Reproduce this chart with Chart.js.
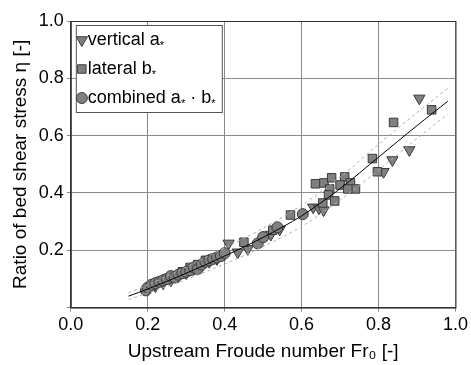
<!DOCTYPE html>
<html>
<head>
<meta charset="utf-8">
<script src="https://cdn.jsdelivr.net/npm/chart.js@4.4.1/dist/chart.umd.min.js"></script>
<style>
  html, body { margin: 0; padding: 0; background: #fff; }
  #wrap { width: 471px; height: 365px; }
</style>
</head>
<body>
<div id="wrap"><canvas id="chart"></canvas></div>
<script>
// values
const verticalFr  = [0.20, 0.22, 0.24, 0.26, 0.28, 0.30, 0.32, 0.34, 0.36, 0.38, 0.41, 0.434, 0.46, 0.52, 0.543, 0.63, 0.645, 0.657, 0.813, 0.836, 0.88, 0.906];
const verticalEta = [0.065, 0.075, 0.085, 0.095, 0.11, 0.12, 0.135, 0.145, 0.16, 0.17, 0.224, 0.193, 0.205, 0.255, 0.273, 0.35, 0.347, 0.34, 0.474, 0.515, 0.55, 0.73];

const lateralFr  = [0.21, 0.23, 0.25, 0.27, 0.29, 0.31, 0.33, 0.35, 0.37, 0.39, 0.45, 0.525, 0.571, 0.636, 0.658, 0.678, 0.712, 0.727, 0.74, 0.70, 0.72, 0.673, 0.67, 0.686, 0.655, 0.784, 0.797, 0.839, 0.938];
const lateralEta = [0.075, 0.09, 0.10, 0.11, 0.125, 0.14, 0.15, 0.165, 0.17, 0.18, 0.228, 0.27, 0.323, 0.432, 0.435, 0.453, 0.456, 0.435, 0.414, 0.428, 0.414, 0.414, 0.393, 0.372, 0.365, 0.52, 0.474, 0.646, 0.69];

const combinedFr  = [0.195, 0.20, 0.21, 0.22, 0.23, 0.24, 0.25, 0.26, 0.27, 0.28, 0.29, 0.30, 0.31, 0.32, 0.33, 0.34, 0.35, 0.36, 0.37, 0.38, 0.39, 0.40, 0.486, 0.50, 0.537, 0.603];
const combinedEta = [0.06, 0.07, 0.08, 0.085, 0.09, 0.095, 0.10, 0.11, 0.105, 0.115, 0.12, 0.125, 0.13, 0.14, 0.135, 0.15, 0.16, 0.165, 0.17, 0.175, 0.18, 0.19, 0.224, 0.246, 0.28, 0.326];

// fitted curve and its band
const fitFr    = [0.15, 0.20, 0.30, 0.40, 0.50, 0.60, 0.70, 0.80, 0.90, 0.98];
const fitEta   = [0.04, 0.065, 0.12, 0.18, 0.245, 0.32, 0.415, 0.525, 0.635, 0.72];
const upperEta = [0.052, 0.079, 0.142, 0.208, 0.277, 0.357, 0.455, 0.57, 0.68, 0.765];
const lowerEta = [0.028, 0.051, 0.098, 0.152, 0.213, 0.283, 0.375, 0.48, 0.59, 0.675];

const ticks = [0, 0.2, 0.4, 0.6, 0.8, 1.0];

const pts = (xs, ys) => xs.map((x, i) => ({ x: x, y: ys[i] }));

const markFill = '#808080';
const markEdge = '#3a3a3a';
const FONT = 'Liberation Sans, Arial, sans-serif';

const frameAndLegend = {
  id: 'frameAndLegend',
  afterDraw(chart) {
    const { ctx, chartArea: a } = chart;
    ctx.save();
    ctx.strokeStyle = '#333';
    ctx.lineWidth = 1;
    ctx.strokeRect(a.left + 0.5, a.top + 0.5, a.right - a.left, a.bottom - a.top);

    // legend box
    const bx = a.left + 5, by = a.top + 4;
    ctx.fillStyle = '#fff';
    ctx.fillRect(bx, by, 146, 87);
    ctx.strokeStyle = '#555';
    ctx.strokeRect(bx + 0.5, by + 0.5, 146, 87);

    const rows = [
      { ds: 0, parts: [['vertical a'], ['*', 1]] },
      { ds: 1, parts: [['lateral b'], ['*', 1]] },
      { ds: 2, parts: [['combined a'], ['*', 1], [' \u00b7 b'], ['*', 1]] }
    ];
    rows.forEach((r, i) => {
      const d = chart.data.datasets[r.ds];
      const cy = by + 15 + i * 29;
      ctx.fillStyle = markFill;
      ctx.strokeStyle = markEdge;
      ctx.lineWidth = 1;
      Chart.helpers.drawPoint(ctx, {
        pointStyle: d.pointStyle, radius: d.pointRadius, rotation: d.rotation || 0, borderWidth: 1
      }, bx + 6, cy);
      let x = bx + 12;
      ctx.fillStyle = '#000';
      ctx.textBaseline = 'middle';
      r.parts.forEach(p => {
        if (p[1]) {
          ctx.font = '11px ' + FONT;
          ctx.fillText(p[0], x, cy + 6);
        } else {
          ctx.font = '18px ' + FONT;
          ctx.fillText(p[0], x, cy);
        }
        x += ctx.measureText(p[0]).width;
      });
    });
    ctx.restore();
  }
};

const lineSet = (label, ys, color, dash) => ({
  type: 'line', label: label, data: pts(fitFr, ys),
  borderColor: color, borderWidth: 1, borderDash: dash,
  pointRadius: 0, fill: false, tension: 0.3, order: 0
});

new Chart(document.getElementById('chart'), {
  type: 'scatter',
  data: {
    datasets: [
      { label: 'vertical', data: pts(verticalFr, verticalEta), pointStyle: 'triangle', rotation: 180,
        pointRadius: 6.5, backgroundColor: markFill, borderColor: markEdge, borderWidth: 1, order: 3 },
      { label: 'lateral', data: pts(lateralFr, lateralEta), pointStyle: 'rect',
        pointRadius: 6, backgroundColor: markFill, borderColor: markEdge, borderWidth: 1, order: 2 },
      { label: 'combined', data: pts(combinedFr, combinedEta), pointStyle: 'circle',
        pointRadius: 5.5, backgroundColor: markFill, borderColor: markEdge, borderWidth: 1, order: 1 },
      lineSet('fit', fitEta, '#000', []),
      lineSet('upper', upperEta, '#b0b0b0', [3, 3]),
      lineSet('lower', lowerEta, '#b0b0b0', [3, 3])
    ]
  },
  options: {
    responsive: true,
    maintainAspectRatio: false,
    animation: false,
    layout: { padding: { top: 21, right: 2, left: 9, bottom: 2 } },
    plugins: { legend: { display: false }, tooltip: { enabled: false } },
    scales: {
      x: {
        type: 'linear', min: 0, max: 1,
        afterBuildTicks: s => { s.ticks = ticks.map(v => ({ value: v })); },
        ticks: { color: '#000', font: { family: FONT, size: 18 }, padding: 3, callback: v => v.toFixed(1) },
        grid: { color: '#8a8a8a', lineWidth: 1, tickLength: 4 },
        border: { color: '#333' },
        title: { display: true, text: 'Upstream Froude number Fr\u2080 [-]', color: '#000',
                 font: { family: FONT, size: 19 }, padding: { top: 1, bottom: 0 } }
      },
      y: {
        type: 'linear', min: 0, max: 1,
        afterBuildTicks: s => { s.ticks = ticks.map(v => ({ value: v })); },
        ticks: { color: '#000', font: { family: FONT, size: 18 }, padding: 3,
                 callback: v => v === 0 ? '' : v.toFixed(1) },
        grid: { color: '#8a8a8a', lineWidth: 1, tickLength: 4 },
        border: { color: '#333' },
        title: { display: true, text: 'Ratio of bed shear stress \u03b7 [-]', color: '#000',
                 font: { family: FONT, size: 19 }, padding: { top: 0, bottom: 4 } }
      }
    }
  },
  plugins: [frameAndLegend]
});
</script>
</body>
</html>
